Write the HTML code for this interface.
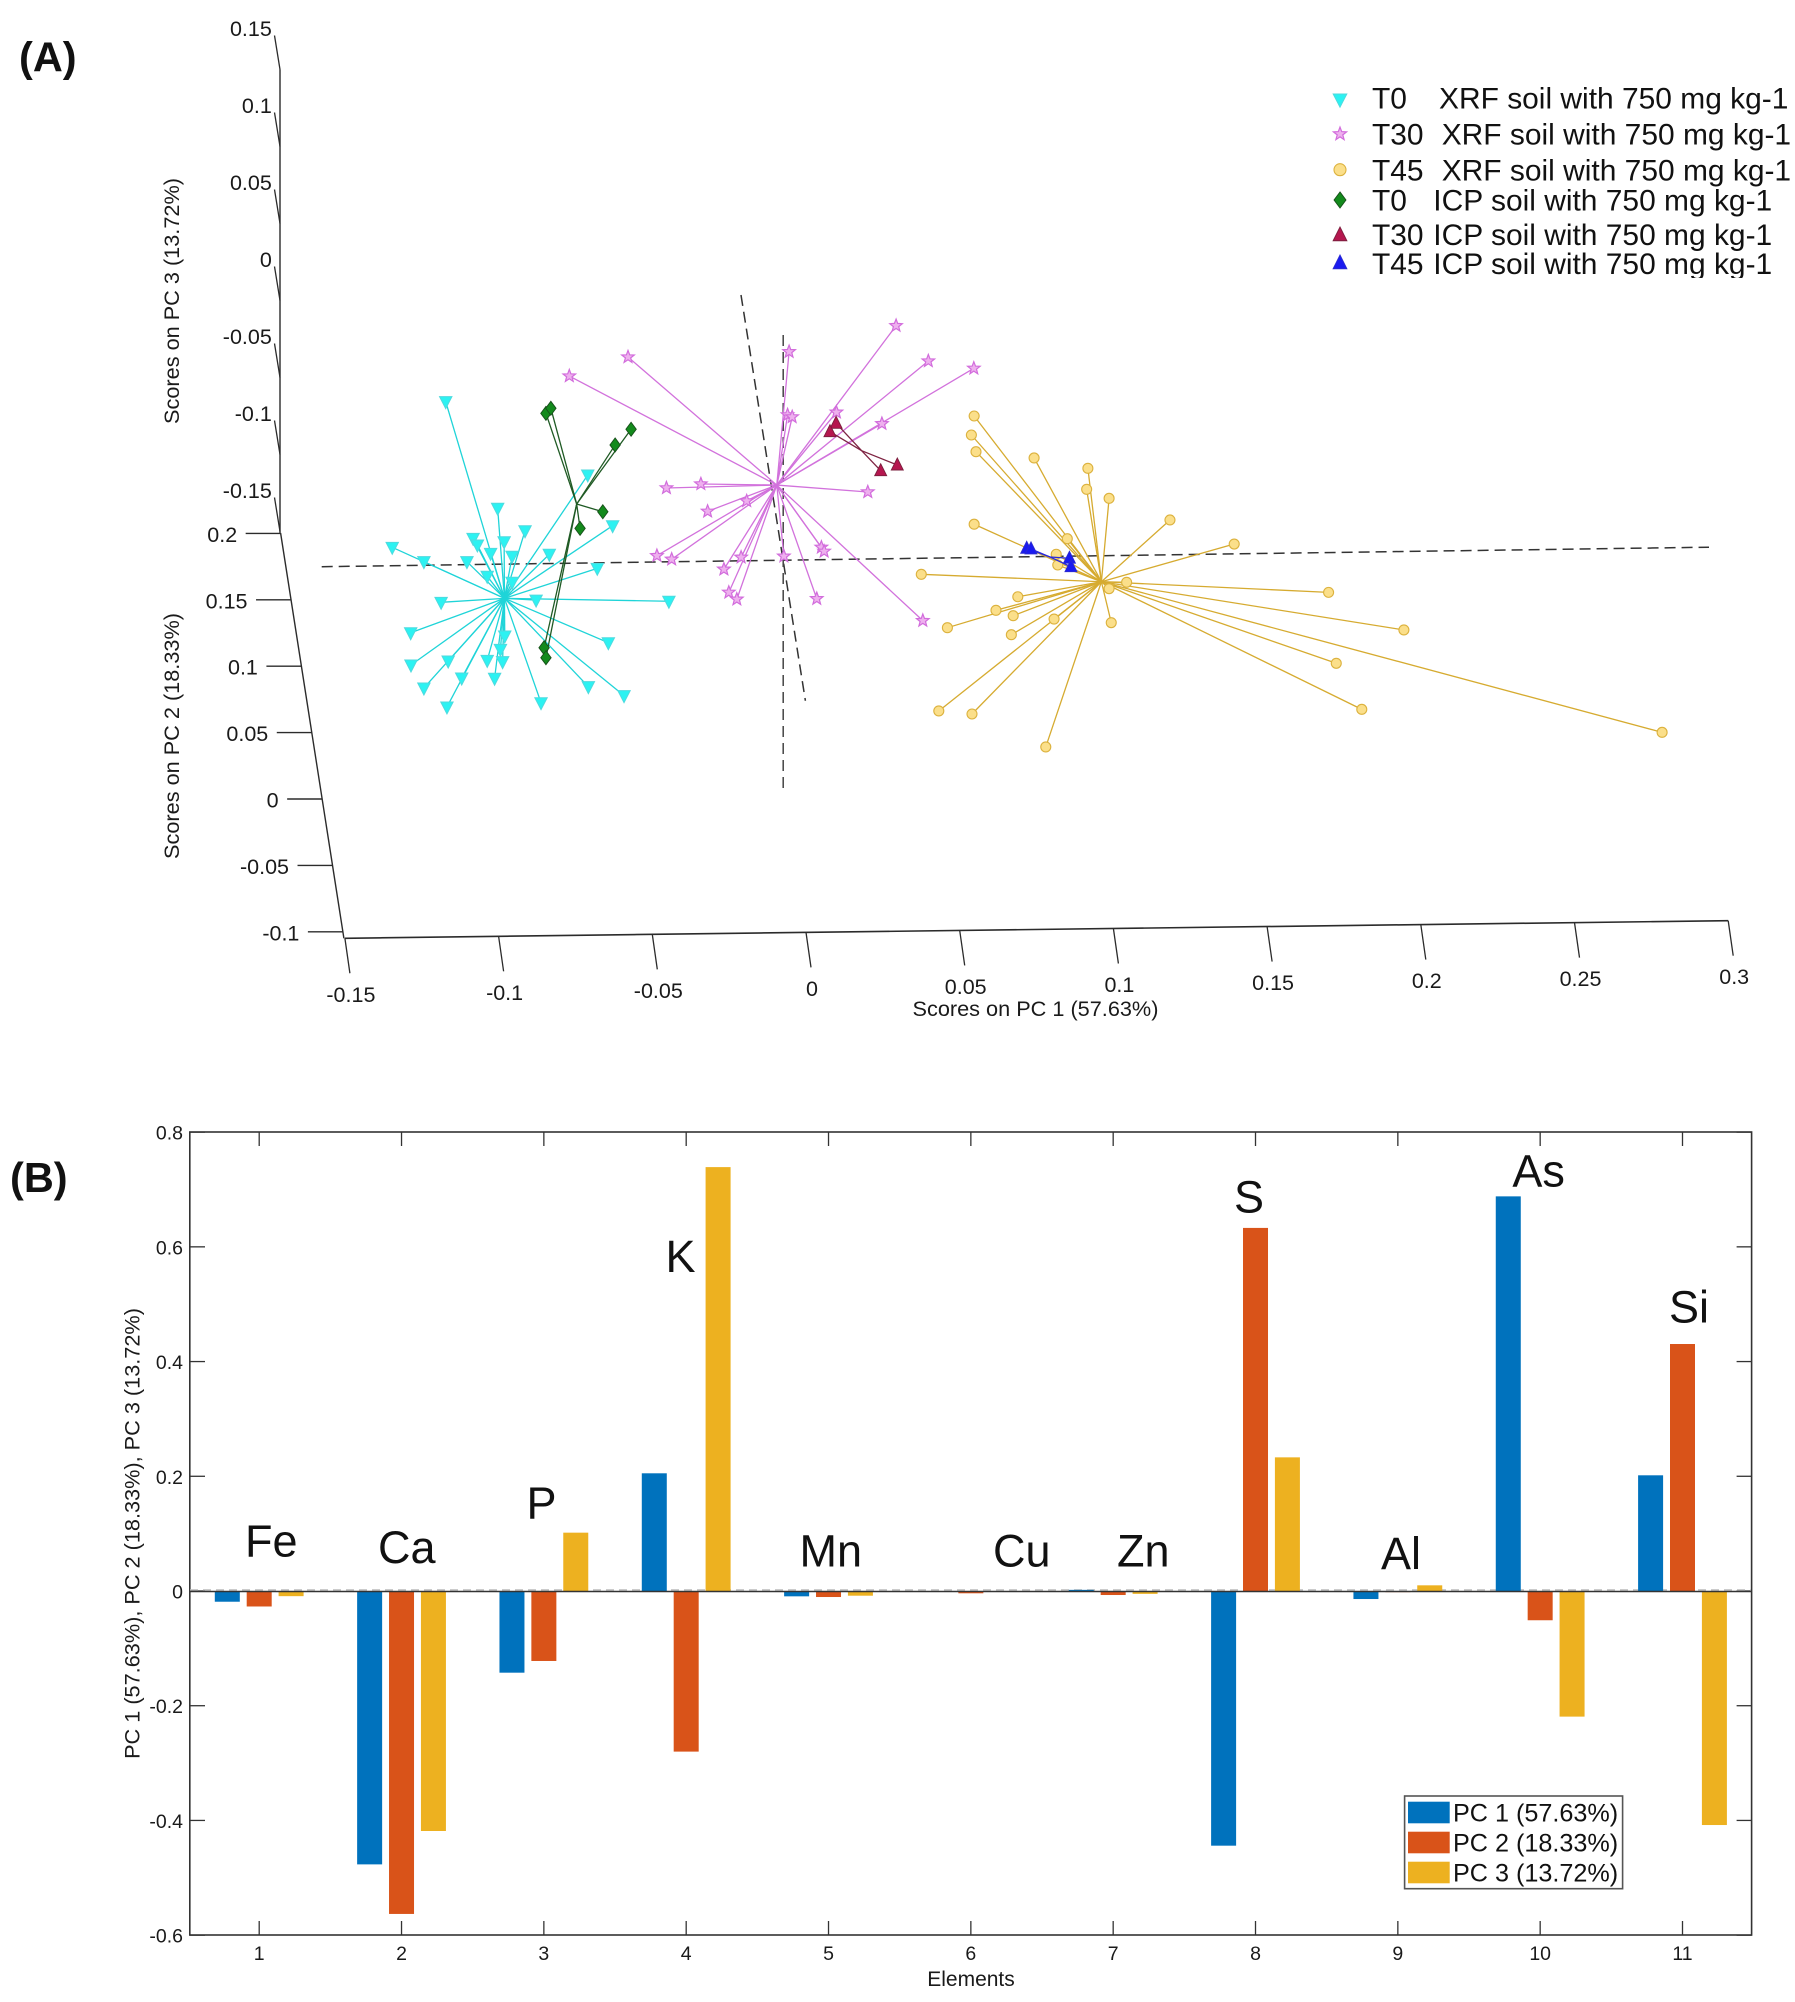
<!DOCTYPE html>
<html lang="en">
<head>
<meta charset="utf-8">
<title>PCA score plot and loadings</title>
<style>
html,body{margin:0;padding:0;background:#fff;}
svg{display:block;font-family:"Liberation Sans",Arial,sans-serif;fill:#1a1a1a;filter:blur(0.35px);}
</style>
</head>
<body>
<svg id="fig" xmlns="http://www.w3.org/2000/svg" width="1795" height="2002" viewBox="0 0 1795 2002">
  <rect x="0" y="0" width="1795" height="2002" fill="#ffffff"/>
  <text x="19" y="71.5" font-size="41.5" font-weight="bold" fill="#111">(A)</text>
  <text x="10" y="1192" font-size="41.5" font-weight="bold" fill="#111">(B)</text>

  <g id="panelA">
    <text transform="translate(179,301) rotate(-90)" text-anchor="middle" font-size="21.7">Scores on PC 3 (13.72%)</text>
    <text transform="translate(179,736) rotate(-90)" text-anchor="middle" font-size="21.7">Scores on PC 2 (18.33%)</text>
    <text x="1035.5" y="1016" text-anchor="middle" font-size="21.7">Scores on PC 1 (57.63%)</text>
    <line x1="321.7" y1="566.7" x2="1709" y2="547.2" stroke="#333" stroke-width="1.5" stroke-dasharray="11 6"/>
    <line x1="741" y1="295" x2="805.4" y2="700.7" stroke="#333" stroke-width="1.5" stroke-dasharray="11 6"/>
    <line x1="783.2" y1="335" x2="783.2" y2="792.7" stroke="#444" stroke-width="1.5" stroke-dasharray="11 6"/>
    <g id="axesA"></g>
    <g id="seriesA"></g>
    <g id="legendA" font-size="29.95" fill="#111">
      <text y="108.5"><tspan x="1372">T0</tspan><tspan x="1439">XRF soil with 750 mg kg-1</tspan></text>
      <text y="144.3"><tspan x="1372">T30</tspan><tspan x="1441.7">XRF soil with 750 mg kg-1</tspan></text>
      <text y="180.7"><tspan x="1372">T45</tspan><tspan x="1441.7">XRF soil with 750 mg kg-1</tspan></text>
      <text y="210.7"><tspan x="1372">T0</tspan><tspan x="1433.3">ICP soil with 750 mg kg-1</tspan></text>
      <text y="245"><tspan x="1372">T30</tspan><tspan x="1433.3">ICP soil with 750 mg kg-1</tspan></text>
      <text y="274"><tspan x="1372">T45</tspan><tspan x="1433.3">ICP soil with 750 mg kg-1</tspan></text>
      <rect x="1360" y="278" width="435" height="14" fill="#ffffff"/>
    </g>
  </g>

  <g id="panelB">
    <rect x="189.8" y="1132" width="1561.8" height="803" fill="none" stroke="#333" stroke-width="1.6"/>
    <g id="axesB"></g>
    <line x1="190" y1="1590" x2="1751" y2="1590" stroke="#bbb" stroke-width="1.4" stroke-dasharray="8 5"/>
    <g id="barsB"></g>
    <line x1="190" y1="1591.5" x2="1751" y2="1591.5" stroke="#333" stroke-width="1.4"/>
    <text transform="translate(139.5,1533.5) rotate(-90)" text-anchor="middle" font-size="21.7">PC 1 (57.63%), PC 2 (18.33%), PC 3 (13.72%)</text>
    <text x="971" y="1986" text-anchor="middle" font-size="21">Elements</text>
    <g font-size="45" fill="#111">
      <text x="245" y="1556.5">Fe</text>
      <text x="378" y="1563">Ca</text>
      <text x="526.5" y="1518.5">P</text>
      <text x="665.5" y="1272">K</text>
      <text x="799.5" y="1566.5">Mn</text>
      <text x="993" y="1566.5">Cu</text>
      <text x="1117" y="1566.5">Zn</text>
      <text x="1234" y="1212.5">S</text>
      <text x="1381" y="1569">Al</text>
      <text x="1512.4" y="1186.5">As</text>
      <text x="1669" y="1322.5">Si</text>
    </g>
    <g>
      <rect x="1404.6" y="1796" width="218" height="92.7" fill="#fff" stroke="#555" stroke-width="1.6"/>
      <rect x="1408" y="1801.7" width="41.7" height="21.6" fill="#0072BD"/>
      <rect x="1408" y="1831.7" width="41.7" height="21.6" fill="#D95319"/>
      <rect x="1408" y="1861.7" width="41.7" height="21.6" fill="#EDB120"/>
      <text x="1453" y="1821.7" font-size="25.2" fill="#111">PC 1 (57.63%)</text>
      <text x="1453" y="1851.7" font-size="25.2" fill="#111">PC 2 (18.33%)</text>
      <text x="1453" y="1881.7" font-size="25.2" fill="#111">PC 3 (13.72%)</text>
    </g>
  </g>
</svg>
<script>
/* ---------- Panel A tick values ---------- */
const pc1Ticks = [-0.15, -0.1, -0.05, 0, 0.05, 0.1, 0.15, 0.2, 0.25, 0.3];
const pc2Ticks = [-0.1, -0.05, 0, 0.05, 0.1, 0.15, 0.2];
const pc3Ticks = [-0.15, -0.1, -0.05, 0, 0.05, 0.1, 0.15];

/* ---------- Panel A scores, read in the picture plane (PC1 scale, PC2 scale) ---------- */
const t0XrfCentroid = [-0.0981, 0.1511];
const t0XrfPc1 = [-0.1172,-0.0710,-0.1003,-0.0629,-0.0914,-0.1083,-0.1069,-0.0982,-0.1346,-0.1026,-0.0956,-0.0835,-0.1243,-0.1103,-0.0679,-0.1037,-0.0956,-0.1187,-0.0878,-0.0446,-0.1286,-0.0643,-0.0980,-0.0994,-0.1285,-0.1164,-0.1037,-0.0987,-0.1120,-0.1013,-0.1243,-0.0708,-0.0592,-0.1168,-0.0862];
const t0XrfPc2 = [0.2992,0.2440,0.2189,0.2058,0.2020,0.1963,0.1913,0.1937,0.1895,0.1850,0.1828,0.1843,0.1787,0.1787,0.1737,0.1677,0.1632,0.1481,0.1498,0.1489,0.1252,0.1177,0.1227,0.1127,0.1009,0.1039,0.1044,0.1034,0.0911,0.0909,0.0836,0.0846,0.0778,0.0693,0.0725];

const t30XrfCentroid = [-0.0095, 0.2364];
const t30XrfPc1 = [0.0293,0.0398,0.0546,-0.0055,-0.0060,-0.0045,0.0099,0.0247,0.0201,-0.0342,-0.0454,-0.0193,-0.0320,-0.0485,-0.0437,-0.0267,-0.0211,-0.0072,0.0050,0.0059,-0.0251,-0.0225,0.0035,0.0380,-0.0770,-0.0579];
const t30XrfPc2 = [0.3564,0.3298,0.3243,0.3368,0.2892,0.2877,0.2912,0.2826,0.2312,0.2372,0.2342,0.2244,0.2166,0.1832,0.1805,0.1730,0.1820,0.1828,0.1895,0.1865,0.1556,0.1504,0.1508,0.1343,0.3185,0.3328];

const t45XrfCentroid = [0.0961, 0.1636];
const t45XrfPc1 = [0.0547,0.0538,0.0553,0.0742,0.0917,0.0913,0.0986,0.1184,0.1393,0.0547,0.0850,0.0814,0.0819,0.0375,0.1043,0.0986,0.0689,0.1700,0.0618,0.0674,0.0807,0.0460,0.0668,0.0993,0.1945,0.1725,0.0432,0.0540,0.1808,0.0780,0.2785];
const t45XrfPc2 = [0.2884,0.2741,0.2615,0.2568,0.2490,0.2332,0.2264,0.2101,0.1920,0.2069,0.1960,0.1843,0.1762,0.1692,0.1632,0.1584,0.1523,0.1556,0.1421,0.1380,0.1355,0.1290,0.1237,0.1328,0.1273,0.1022,0.0663,0.0640,0.0675,0.0392,0.0502];

const t0IcpCentroid = [-0.0746, 0.2221];
const t0IcpPc1 = [-0.0846,-0.0830,-0.0569,-0.0621,-0.0661,-0.0735,-0.0852,-0.0846];
const t0IcpPc2 = [0.2904,0.2942,0.2784,0.2666,0.2163,0.2038,0.1139,0.1064];

const t30IcpCentroid = [0.0181, 0.2623];
const t30IcpPc1 = [0.0098,0.0078,0.0297,0.0243];
const t30IcpPc2 = [0.2829,0.2766,0.2515,0.2472];

const t45IcpCentroid = [0.0794, 0.1822];
const t45IcpPc1 = [0.0718,0.0732,0.0857,0.0862];
const t45IcpPc2 = [0.1888,0.1883,0.1813,0.1749];

/* ---------- Panel B data ---------- */
const elementIndex = [1,2,3,4,5,6,7,8,9,10,11];
const pc1Loadings = [-0.0187,-0.4766,-0.1424,0.2052,-0.0093,0,0.002,-0.444,-0.014,0.688,0.2017];
const pc2Loadings = [-0.027,-0.563,-0.122,-0.280,-0.0105,-0.004,-0.007,0.633,-0.002,-0.051,0.4306];
const pc3Loadings = [-0.009,-0.4184,0.1017,0.739,-0.0082,-0.001,-0.005,0.233,0.0099,-0.219,-0.408];
const yTickValues = [-0.6,-0.4,-0.2,0,0.2,0.4,0.6,0.8];
const yTickLabels = ['-0.6','-0.4','-0.2','0','0.2','0.4','0.6','0.8'];

/* ---------- helpers ---------- */
const NS = 'http://www.w3.org/2000/svg';
function mk(parent, tag, attrs, txt) {
  const e = document.createElementNS(NS, tag);
  for (const k in attrs) e.setAttribute(k, attrs[k]);
  if (txt !== undefined) e.textContent = txt;
  parent.appendChild(e);
  return e;
}
const axesA = document.getElementById('axesA');
const seriesA = document.getElementById('seriesA');
const legendA = document.getElementById('legendA');
const axesB = document.getElementById('axesB');
const barsB = document.getElementById('barsB');

/* Panel A axis functions */
const xA = v => 806 + 3074 * v;
const yPlane = v => 799 - 1328 * v;
const pc1BaseY = v => 932.4 - 39.1 * v;
const pc2AxisX = y => 280.6 + 0.1562 * (y - 533);
const pc3OuterY = v => 266.5 - 1540 * v;
const axisStroke = '#2b2b2b';

/* PC3 axis */
const pc3Line = mk(axesA, 'line', {x1:280, y1:pc3OuterY(0.15)+34, x2:280, y2:533, stroke:axisStroke, 'stroke-width':1.4});


pc3Ticks.forEach(v => {
  const y = pc3OuterY(v);
  const t = mk(axesA, 'line', {x1:274.5, y1:y, x2:280, y2:y+34, stroke:axisStroke, 'stroke-width':1.3});
  
  
  const l = mk(axesA, 'text', {x:271.8, y:y-7+7.5, 'text-anchor':'end', 'font-size':21.5}, String(v));
  
  
});

/* PC2 axis */
const pc2Line = mk(axesA, 'line', {x1:pc2AxisX(533), y1:533, x2:pc2AxisX(938.3), y2:938.3, stroke:axisStroke, 'stroke-width':1.4});


pc2Ticks.forEach(v => {
  const y = yPlane(v), ix = pc2AxisX(y);
  const t = mk(axesA, 'line', {x1:ix-35, y1:y, x2:ix, y2:y, stroke:axisStroke, 'stroke-width':1.4});
  
  
  const l = mk(axesA, 'text', {x:ix-43.5, y:y+8.5, 'text-anchor':'end', 'font-size':21.5}, String(v));
  
  
});

/* PC1 axis */
const pc1Line = mk(axesA, 'line', {x1:xA(-0.15), y1:pc1BaseY(-0.15), x2:xA(0.3), y2:pc1BaseY(0.3), stroke:axisStroke, 'stroke-width':1.6});


pc1Ticks.forEach(v => {
  const x = xA(v), y = pc1BaseY(v);
  const t = mk(axesA, 'line', {x1:x, y1:y, x2:x+5, y2:y+35, stroke:axisStroke, 'stroke-width':1.3});
  
  
  const l = mk(axesA, 'text', {x:x+6, y:y+56+7.5, 'text-anchor':'middle', 'font-size':21.5}, String(v));
  
  
});

/* Marker shapes */
function starPoints(cx, cy, R, r) {
  const out = [];
  for (let i = 0; i < 10; i++) {
    const a = -Math.PI / 2 + i * Math.PI / 5, q = i % 2 ? r : R;
    out.push((cx + q * Math.cos(a)).toFixed(1) + ',' + (cy + q * Math.sin(a)).toFixed(1));
  }
  return out.join(' ');
}
function drawMarker(parent, kind, cx, cy, k) {
  if (kind === 'down') return mk(parent, 'polygon', {points:`${cx-6.2*k},${cy-5*k} ${cx+6.2*k},${cy-5*k} ${cx},${cy+7*k}`, fill:'#2cf2f2', stroke:'#4fdade', 'stroke-width':1});
  if (kind === 'star') return mk(parent, 'polygon', {points:starPoints(cx, cy, 6.6*k, 2.8*k), fill:'#eeb0ee', stroke:'#d26cdc', 'stroke-width':1.2});
  if (kind === 'circle') return mk(parent, 'circle', {cx:cx, cy:cy, r:5*k, fill:'#fbdf8a', stroke:'#dcb23e', 'stroke-width':1.1});
  if (kind === 'diamond') return mk(parent, 'polygon', {points:`${cx},${cy-7*k} ${cx+5.2*k},${cy} ${cx},${cy+7*k} ${cx-5.2*k},${cy}`, fill:'#138a1c', stroke:'#174f1a', 'stroke-width':0.9});
  if (kind === 'crimson') return mk(parent, 'polygon', {points:`${cx},${cy-7*k} ${cx+6*k},${cy+5*k} ${cx-6*k},${cy+5*k}`, fill:'#b5174f', stroke:'#7a1f3d', 'stroke-width':0.9});
  return mk(parent, 'polygon', {points:`${cx},${cy-7*k} ${cx+6*k},${cy+5*k} ${cx-6*k},${cy+5*k}`, fill:'#1a1af0', stroke:'#2a2ad0', 'stroke-width':0.9});
}

/* Series: each observation is connected to its group centroid */
function drawSeries(seriesName, centroid, pc1, pc2, lineColor, kind) {
  const g = mk(seriesA, 'g', {});
  
  
  const hx = xA(centroid[0]), hy = yPlane(centroid[1]);
  pc1.forEach((v, i) => {
    const ln = mk(g, 'line', {x1:hx, y1:hy, x2:xA(v), y2:yPlane(pc2[i]), stroke:lineColor, 'stroke-width':1.3});
    
    
  });
  pc1.forEach((v, i) => {
    const m = drawMarker(g, kind, xA(v), yPlane(pc2[i]), 1);
    
    
  });
}
drawSeries('series-t0-xrf', t0XrfCentroid, t0XrfPc1, t0XrfPc2, '#1fd4d8', 'down');
drawSeries('series-t30-xrf', t30XrfCentroid, t30XrfPc1, t30XrfPc2, '#d272dc', 'star');
drawSeries('series-t45-xrf', t45XrfCentroid, t45XrfPc1, t45XrfPc2, '#d6ab30', 'circle');
drawSeries('series-t0-icp', t0IcpCentroid, t0IcpPc1, t0IcpPc2, '#1f5a24', 'diamond');
drawSeries('series-t30-icp', t30IcpCentroid, t30IcpPc1, t30IcpPc2, '#7e2342', 'crimson');
drawSeries('series-t45-icp', t45IcpCentroid, t45IcpPc1, t45IcpPc2, '#2a2ad8', 'blue');

/* Legend A markers */
const lm1 = drawMarker(legendA, 'down', 1340, 99.5, 1.1);


const lm2 = drawMarker(legendA, 'star', 1340, 134, 1.05);


const lm3 = drawMarker(legendA, 'circle', 1340, 169.7, 1.2);


const lm4 = drawMarker(legendA, 'diamond', 1340, 200, 1.15);


const lm5 = drawMarker(legendA, 'crimson', 1340, 235, 1.15);


const lm6 = drawMarker(legendA, 'blue', 1340, 263, 1.15);



/* Panel B axis functions */
const xB = i => 259.2 + (i - 1) * 142.33;
const yB = v => 1591 - 573.6 * v;

yTickValues.forEach((v, i) => {
  const y = yB(v);
  const tl = mk(axesB, 'line', {x1:189.8, y1:y, x2:205, y2:y, stroke:'#333', 'stroke-width':1.3});
  
  
  const tr = mk(axesB, 'line', {x1:1736.6, y1:y, x2:1751.6, y2:y, stroke:'#333', 'stroke-width':1.3});
  
  
  const l = mk(axesB, 'text', {x:183, y:y+7.5, 'text-anchor':'end', 'font-size':19.5}, yTickLabels[i]);
  
  
});
elementIndex.forEach(i => {
  const x = xB(i);
  const tt = mk(axesB, 'line', {x1:x, y1:1132, x2:x, y2:1146, stroke:'#333', 'stroke-width':1.3});
  
  
  const tb = mk(axesB, 'line', {x1:x, y1:1921, x2:x, y2:1935, stroke:'#333', 'stroke-width':1.3});
  
  
  const l = mk(axesB, 'text', {x:x, y:1960, 'text-anchor':'middle', 'font-size':19.5}, String(i));
  
  
});

/* Bars */
function drawBars(seriesName, values, offset, color) {
  const g = mk(barsB, 'g', {});
  
  
  values.forEach((v, i) => {
    const cx = xB(elementIndex[i]) + offset;
    const top = Math.min(yB(v), yB(0));
    const h = Math.abs(yB(v) - yB(0));
    const r = mk(g, 'rect', {x:cx-12.5, y:top, width:25, height:h, fill:color});
    
    
  });
}
drawBars('bars-pc1', pc1Loadings, -31.9, '#0072BD');
drawBars('bars-pc2', pc2Loadings, 0, '#D95319');
drawBars('bars-pc3', pc3Loadings, 31.9, '#EDB120');
</script>
</body>
</html>
